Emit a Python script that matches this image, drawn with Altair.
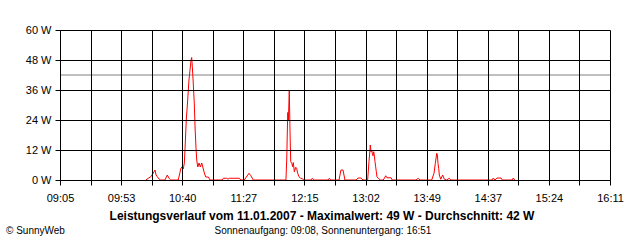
import altair as alt
import pandas as pd

# ---- data ----
times = [
    "10:11:24", "10:13:24", "10:15:18", "10:16:48", "10:18:36", "10:19:24", "10:20:24", "10:21:54", "10:23:00",
    "10:26:18", "10:28:06", "10:29:42", "10:30:42", "10:36:36",
    "10:38:42", "10:39:42", "10:40:30", "10:41:18", "10:41:48", "10:42:48", "10:43:54", "10:44:54", "10:45:42",
    "10:46:30", "10:47:00", "10:47:30", "10:48:12", "10:49:00", "10:49:36", "10:50:18", "10:50:54", "10:51:42",
    "10:52:42", "10:53:42", "10:54:48", "10:55:48", "10:56:48", "10:57:54", "10:59:54", "11:01:12",
    "11:10:30", "11:11:30", "11:14:06", "11:15:06", "11:16:06", "11:23:54", "11:25:00",
    "11:27:42", "11:31:24", "11:32:42", "11:34:42",
    "12:00:00", "12:00:36", "12:01:24", "12:01:54", "12:02:36", "12:03:06", "12:03:42", "12:04:30", "12:05:12",
    "12:05:42", "12:06:30", "12:07:36", "12:08:18", "12:09:06", "12:10:06", "12:11:24", "12:13:24", "12:14:00",
    "12:19:24", "12:20:24", "12:21:30", "12:32:36", "12:33:36", "12:34:42",
    "12:41:06", "12:42:36", "12:44:12", "12:45:42",
    "12:54:18", "12:55:48", "12:58:06", "12:59:42",
    "13:03:18", "13:04:18", "13:05:06", "13:05:18", "13:05:54", "13:06:24", "13:06:54", "13:07:24", "13:08:00",
    "13:08:24", "13:09:00", "13:09:30", "13:10:00", "13:10:30", "13:11:30", "13:13:06",
    "13:15:24", "13:17:18", "13:18:18", "13:21:24", "13:22:24",
    "13:40:42", "13:42:30", "13:43:48",
    "13:52:54", "13:54:42", "13:55:42", "13:56:48", "13:57:12", "13:57:48", "13:58:18", "13:58:48", "13:59:54",
    "14:01:24", "14:02:42", "14:04:30", "14:06:30", "14:07:36",
    "14:39:36", "14:40:36", "14:41:54", "14:43:30", "14:46:36", "14:47:42",
    "14:55:06", "14:56:06", "14:57:12",
]
watts = [
    0, 0.7, 1.3, 2.4, 4, 2, 1.3, 0.3, 0,
    0, 2, 0.5, 0, 0,
    4.8, 5.3, 4.4, 6.8, 12, 24, 32, 40, 44,
    48, 49, 45.3, 38.8, 30.8, 21.2, 13.2, 8, 5.2,
    6.8, 5.2, 6.8, 4.8, 2.8, 1.2, 1.2, 0,
    0, 0.7, 0.7, 0.3, 0.7, 0.7, 0,
    0, 2.7, 1.8, 0,
    0, 8, 27, 24, 36, 20.8, 7.3, 6.7, 5.3,
    7, 3.3, 5.1, 4.7, 2.7, 1.3, 0.7, 0.3, 0,
    0, 0.7, 0, 0, 0.7, 0,
    0, 4, 4, 0,
    0, 0.8, 0.8, 0,
    0, 7.3, 12, 14, 11.3, 12, 10.7, 9.7, 11.3,
    10, 7.3, 5.3, 3.3, 1.3, 0.7, 0,
    0, 1.7, 0.9, 0.9, 0,
    0, 0.7, 0,
    0, 2.7, 6.7, 10.7, 10.3, 6.7, 4.7, 2, 0.3,
    2, 0.3, 0, 0.7, 0,
    0, 0.8, 0, 0.8, 0.8, 0,
    0, 0.8, 0,
]
average_w = [42]
y_ticks = [0, 12, 24, 36, 48, 60]
x_tick_labels = ["09:05", "09:53", "10:40", "11:27", "12:15", "13:02", "13:49", "14:37", "15:24", "16:11"]
x_start_min = 9 * 60 + 5
x_end_min = 16 * 60 + 11
title_text = "Leistungsverlauf vom 11.01.2007 - Maximalwert: 49 W - Durchschnitt: 42 W"
subtitle_text = "Sonnenaufgang: 09:08, Sonnenuntergang: 16:51"
credit_text = "\u00a9 SunnyWeb"


def to_minutes(s):
    h, m, sec = s.split(":")
    return int(h) * 60 + int(m) + int(sec) / 60.0


df = pd.DataFrame({"t": [to_minutes(s) for s in times], "w": watts})

n_int = (len(x_tick_labels) - 1) * 2
step = (x_end_min - x_start_min) / n_int
x_values = [x_start_min + i * step for i in range(n_int + 1)]
labels_all = [x_tick_labels[i // 2] if i % 2 == 0 else "" for i in range(n_int + 1)]
label_expr = "[" + ",".join("'%s'" % s for s in labels_all) + "][round((datum.value-%s)/%s)]" % (x_start_min, step)

FONT = "Liberation Sans"

x_scale = alt.Scale(domain=[x_start_min, x_end_min], nice=False, zero=False)
y_scale = alt.Scale(domain=[0, 60], nice=False)

x_axis = alt.Axis(values=x_values, labelExpr=label_expr, title=None, grid=True, gridColor="black",
                  gridOpacity=1, domainColor="black", tickColor="black", tickSize=5, labelColor="black",
                  labelFont=FONT, labelFontSize=11, labelPadding=7, zindex=1, labelFlush=False,
                  labelOverlap=False)
y_axis = alt.Axis(values=y_ticks, labelExpr="datum.value + ' W'", title=None, grid=True, gridColor="black",
                  gridOpacity=1, domainColor="black", tickColor="black", tickSize=5, labelColor="black",
                  labelFont=FONT, labelFontSize=11, labelPadding=4, zindex=1, labelOverlap=False,
                  labelFlush=False)

line = alt.Chart(df).mark_line(color="#ff0000", strokeWidth=1).encode(
    x=alt.X("t:Q", scale=x_scale, axis=x_axis),
    y=alt.Y("w:Q", scale=y_scale, axis=y_axis),
)

avg = alt.Chart(pd.DataFrame({"a": average_w})).mark_rule(color="#808080", strokeWidth=1).encode(
    y=alt.Y("a:Q", scale=y_scale, axis=y_axis)
)

title_mark = alt.Chart(pd.DataFrame({"s": [title_text]})).mark_text(
    font=FONT, fontSize=12, fontWeight="bold", color="black", align="center", baseline="middle"
).encode(text="s:N", x=alt.value(262), y=alt.value(186))

sub_mark = alt.Chart(pd.DataFrame({"s": [subtitle_text]})).mark_text(
    font=FONT, fontSize=10, color="black", align="center", baseline="middle"
).encode(text="s:N", x=alt.value(263), y=alt.value(201))

credit_mark = alt.Chart(pd.DataFrame({"s": [credit_text]})).mark_text(
    font=FONT, fontSize=10, color="black", align="left", baseline="middle"
).encode(text="s:N", x=alt.value(-54), y=alt.value(201))

chart = alt.layer(avg, line, title_mark, sub_mark, credit_mark).properties(
    width=550, height=150,
    autosize=alt.AutoSizeParams(type="none"),
    padding={"left": 60, "top": 30, "right": 30, "bottom": 60},
    background="white",
).configure_view(stroke=None)

chart.save("out.html", embed_options={"renderer": "svg", "actions": False})
